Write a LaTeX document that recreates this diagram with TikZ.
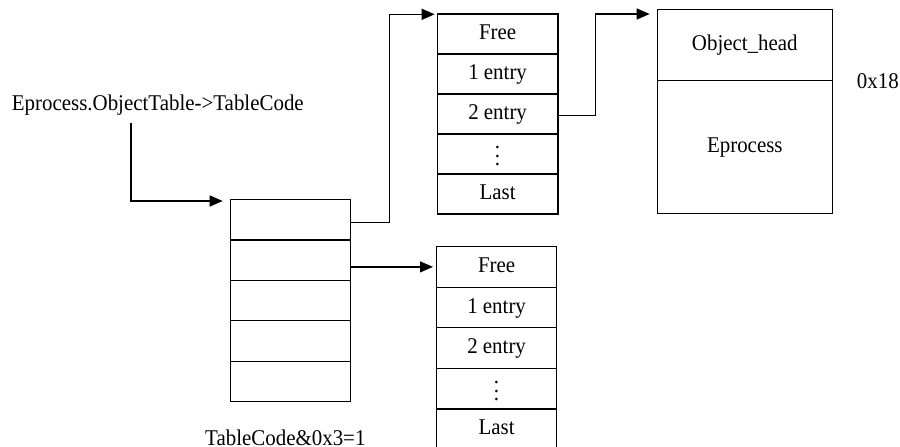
\documentclass[tikz,border=0pt]{standalone}
\usepackage{fontspec}
\setmainfont{Liberation Serif}[FakeStretch=0.93]
\usetikzlibrary{arrows.meta}
% three stacked dots, spaced for the 22.5pt cell text
\newcommand\celldots{\raisebox{-6.5pt}{\vbox{\baselineskip8.6pt\lineskiplimit0pt
  \hbox{.}\hbox{.}\hbox{.}}}}
\begin{document}
\begin{tikzpicture}[x=1pt,y=-1pt,
  font=\fontsize{22.5}{27}\selectfont,
  cellbase/.style={draw, line width=1.2pt, inner sep=0pt, anchor=north west,
    text height=15.5pt, text depth=4.5pt},
  lcell/.style={cellbase, minimum width=120.3pt, minimum height=40.4pt},
  tcell/.style={cellbase, minimum width=120.6pt, minimum height=40pt},
  bcell/.style={cellbase, minimum width=120pt, minimum height=40.6pt},
  label/.style={anchor=base west, inner sep=0pt},
  arr/.style={line width=1.2pt, -{Triangle[length=13pt,width=11pt]}}]
\useasboundingbox (0,0) rectangle (900,447);

% handle table reached through TableCode
\node[lcell] (L1) at (229.7,199.0) {};
\node[lcell] (L2) at (229.7,239.4) {};
\node[lcell] (L3) at (229.7,279.8) {};
\node[lcell] (L4) at (229.7,320.2) {};
\node[lcell] (L5) at (229.7,360.6) {};

% first second-level table
\node[tcell] (T1) at (436.7,13.3) {Free};
\node[tcell] (T2) at (436.7,53.3) {1 entry};
\node[tcell] (T3) at (436.7,93.3) {2 entry};
\node[tcell] (T4) at (436.7,133.3) {\celldots};
\node[tcell] (T5) at (436.7,173.3) {Last};

% second second-level table
\node[bcell] (B1) at (436.0,246.0) {Free};
\node[bcell] (B2) at (436.0,286.6) {1 entry};
\node[bcell] (B3) at (436.0,327.2) {2 entry};
\node[bcell] (B4) at (436.0,367.8) {\celldots};
\node[bcell] (B5) at (436.0,408.4) {Last};

% object
\node[cellbase, minimum width=175pt, minimum height=71pt] (RH) at (656.7,9) {Object\_head};
\node[cellbase, minimum width=175pt, minimum height=133pt] (RB) at (656.7,80) {Eprocess};

% labels
\node[label] (E) at (11.7,110) {Eprocess.ObjectTable->TableCode};
\node[label] (hex) at (856.7,88.3) {0x18};
\node[label] (tc) at (205,445.5) {TableCode\&0x3=1};

% connectors
\draw[arr] ([shift={(119.3,13)}]E.base west) |- ([shift={(-7,2)}]L1.north west);
\draw[arr] ([yshift=-3pt]L1.east) -- ++(38.6,0) |- ([shift={(-2,1)}]T1.north west);
\draw[arr] (L2.east |- B1.west) -- ([xshift=-3pt]B1.west);
\draw[arr] ([yshift=-1.5pt]T3.east) -- ++(37,0) |- ([shift={(-7,5)}]RH.north west);
\end{tikzpicture}
\end{document}
